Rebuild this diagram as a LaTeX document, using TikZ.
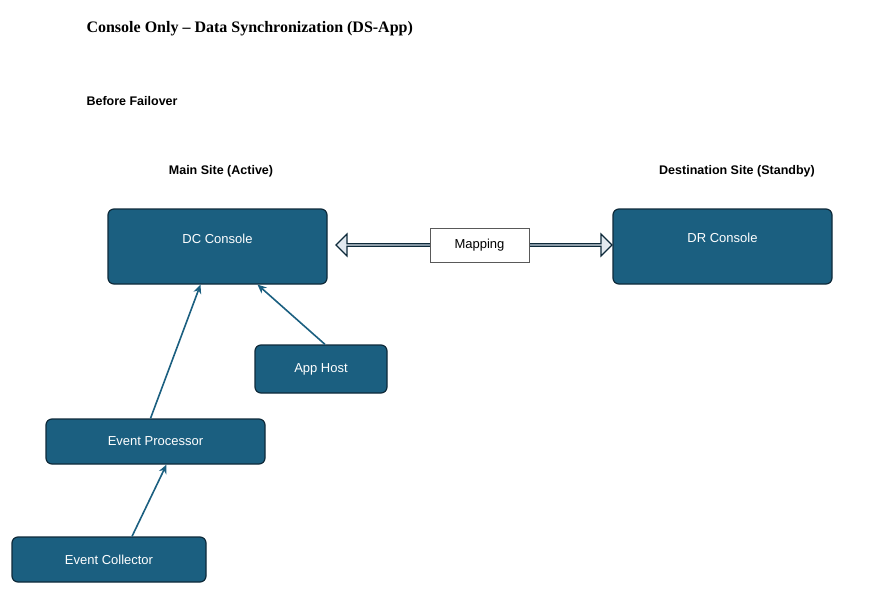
\documentclass[tikz,border=0pt]{standalone}
\usepackage{fontspec}
\setmainfont{Liberation Serif}
\newfontfamily\sansf{Liberation Sans}
\usetikzlibrary{shapes.arrows,arrows.meta}
\definecolor{boxfill}{HTML}{1B5F80}
\definecolor{boxline}{HTML}{0E2A3A}
\definecolor{arrline}{HTML}{1B5F80}
\definecolor{arrlight}{HTML}{E6ECF2}
\definecolor{arrmid}{HTML}{A9BCCD}
\tikzset{
  box/.style={draw=boxline,line width=1.2pt,fill=boxfill,rounded corners=6pt,text=white,font=\sansf\fontsize{13}{15}\selectfont,inner sep=0pt},
  lbl/.style={text=white,font=\sansf\fontsize{13}{15}\selectfont},
  conn/.style={draw=arrline,line width=1.6pt,-{Stealth[length=9pt,width=8pt]}},
  head/.style={font=\sansf\bfseries\fontsize{12.5}{15}\selectfont}
}
\begin{document}
\begin{tikzpicture}[x=1pt,y=-1pt]
\useasboundingbox (0,0) rectangle (884,602);
\node[anchor=west,font=\bfseries\fontsize{16}{19}\selectfont] (title) at (83,29) {Console Only -- Data Synchronization (DS-App)};
\node[anchor=west,head] (bf) at (83,101) {Before Failover};
\node[head] (ms) at (221,171) {Main Site (Active)};
\node[head] (ds) at (737,171) {Destination Site (Standby)};
\node[box,minimum width=219pt,minimum height=75pt] (dc) at (217.5,246.5) {};
\node[lbl] (dct) at (217.5,239) {DC Console};
\node[box,minimum width=219pt,minimum height=75pt] (dr) at (722.5,246.5) {};
\node[lbl] (drt) at (722.5,238) {DR Console};
\node[box,minimum width=132pt,minimum height=48pt] (ah) at (321,369) {App Host};
\node[box,minimum width=219pt,minimum height=45pt] (ep) at (155.5,441.5) {Event Processor};
\node[box,minimum width=194pt,minimum height=45pt] (ec) at (109,559.5) {Event Collector};
\node[double arrow,draw=boxline,line width=1.2pt,minimum width=22pt,minimum height=276pt,
  double arrow head extend=5pt,double arrow head indent=0pt,inner sep=0pt,
  shade,top color=arrlight,bottom color=arrlight,middle color=arrmid,shading angle=90] (ar) at (474,245) {};
\node[draw=gray!70!black,fill=white,minimum width=99pt,minimum height=34pt,inner sep=0pt,font=\sansf\fontsize{13}{15}\selectfont] (mp) at (479.5,245) {Mapping};
\draw[conn] ([xshift=-5pt]ep.north) -- ([xshift=-17pt]dc.south);
\draw[conn] ([xshift=4pt]ah.north) -- ([xshift=40pt]dc.south);
\draw[conn] ([xshift=23pt]ec.north) -- ([xshift=11pt]ep.south);
\end{tikzpicture}
\end{document}
